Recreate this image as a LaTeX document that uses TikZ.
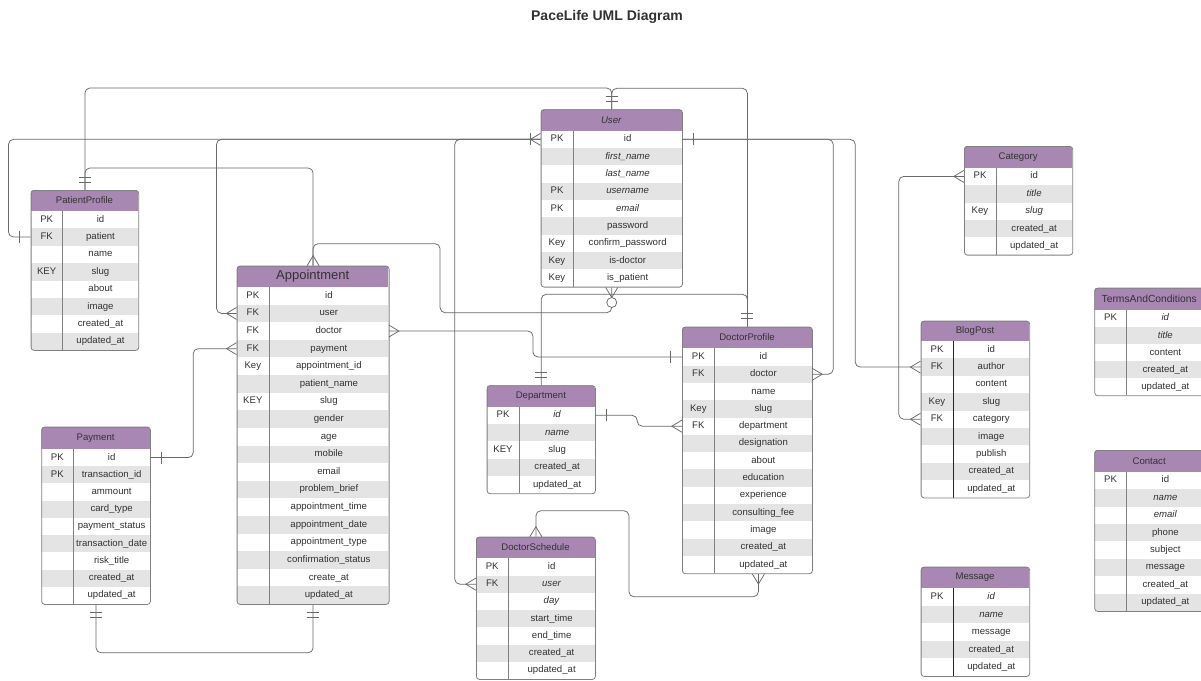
\documentclass[tikz,border=0pt]{standalone}
\usepackage{fontspec}
\setmainfont{Liberation Sans}
\usetikzlibrary{calc}
\definecolor{hdr}{RGB}{168,136,178}
\definecolor{rowg}{RGB}{228,228,228}
\definecolor{bord}{RGB}{128,128,128}
\definecolor{lin}{RGB}{105,105,105}
\definecolor{txt}{RGB}{50,50,50}
\tikzset{
  conn/.style={draw=lin, line width=0.75pt, rounded corners=5pt},
  mk/.style={draw=lin, line width=0.75pt},
  tabborder/.style={draw=bord, line width=0.8pt},
  celltext/.style={font=\fontsize{9.6}{11}\selectfont, text=txt, inner sep=0pt, text height=6.9pt, text depth=2pt},
  hdrtext/.style={font=\fontsize{9.6}{11}\selectfont, text=txt, inner sep=0pt},
}
\def\divcolor{bord}
\newcommand\erdtable[9]{%
  \foreach \kk/\ff [count=\nn] in {#9} {\xdef\nrows{\nn}}%
  \pgfmathsetmacro\tabw{#3-#2}%
  \pgfmathsetmacro\tabh{#7-#5}%
  \pgfmathsetmacro\tabrh{(#7-#6)/\nrows}%
  \fill[white, rounded corners=3pt] (#2,#5) rectangle (#3,#7);
  \begin{scope}
    \clip[rounded corners=3pt] (#2,#5) rectangle (#3,#7);
    \fill[hdr] (#2,#5) rectangle (#3,#6);
    \foreach \kk/\ff [count=\ii] in {#9} {\ifodd\ii\else\fill[rowg] (#2,{#6+(\ii-1)*\tabrh}) rectangle (#3,{#6+\ii*\tabrh});\fi}
  \end{scope}
  \draw[line width=0.8pt, draw=\divcolor] (#4,#6) -- (#4,#7);
  \node[tabborder, rounded corners=3pt, inner sep=0pt, minimum width=\tabw pt, minimum height=\tabh pt, anchor=north west] (#1) at (#2,#5) {};
  \node[hdrtext] (#1-h) at ({(#2+#3)/2},{(#5+#6)/2}) {#8};
  \foreach \kk/\ff [count=\ii] in {#9} {
    \node[inner sep=0pt, minimum width=\tabw pt, minimum height=\tabrh pt] (#1-\ii) at ({(#2+#3)/2},{#6+(\ii-0.5)*\tabrh}) {};
    \node[celltext] at ({(#2+#4)/2},{#6+(\ii-0.5)*\tabrh}) {\kk};
    \node[celltext] at ({(#4+#3)/2},{#6+(\ii-0.5)*\tabrh}) {\ff};
  }
}
\newcommand\cfoot[3]{\draw[mk] ($(#1)+({6*(#3)},{6*(#2)})$) -- ($(#1)+({10*(#2)},{10*(#3)})$) -- ($(#1)-({6*(#3)},{6*(#2)})$);}
\newcommand\obar[4]{\draw[mk] ($(#1)+({#4*(#2)+6*(#3)},{#4*(#3)+6*(#2)})$) -- ($(#1)+({#4*(#2)-6*(#3)},{#4*(#3)-6*(#2)})$);}
\newcommand\dbar[3]{\obar{#1}{#2}{#3}{8}\obar{#1}{#2}{#3}{13}}
\begin{document}
\begin{tikzpicture}[x=1pt,y=-1pt]
\fill[white] (0,0) rectangle (1201,680);
\useasboundingbox (0,0) rectangle (1201,680);
\node[font=\bfseries\fontsize{14}{16}\selectfont, text=txt] (title) at (607,17) {PaceLife UML Diagram};

\erdtable{PP}{30.7}{138.3}{62.7}{190}{211}{350}{PatientProfile}{PK/id, FK/patient, /name, KEY/slug, /about, /image, /created\_at, /updated\_at}
\erdtable{User}{540.7}{682}{573.3}{109.3}{130.7}{286.7}{\textit{User}}{PK/id, /\textit{first\_name}, /\textit{last\_name}, PK/\textit{username}, PK/\textit{email}, /password, Key/confirm\_password, Key/is-doctor, Key/is\_patient}
\erdtable{Appt}{236.7}{388.7}{269}{265.7}{287}{604}{{\fontsize{13}{15}\selectfont Appointment}}{PK/id, FK/user, FK/doctor, FK/payment, Key/appointment\_id, /patient\_name, KEY/slug, /gender, /age, /mobile, /email, /problem\_brief, /appointment\_time, /appointment\_date, /appointment\_type, /confirmation\_status, /create\_at, /updated\_at}
\erdtable{Pay}{41.3}{150}{73.3}{426.7}{449}{604}{Payment}{PK/id, PK/transaction\_id, /ammount, /card\_type, /payment\_status, /transaction\_date, /risk\_title, /created\_at, /updated\_at}
\erdtable{Dept}{486.7}{595}{519.3}{385.3}{406.7}{493.3}{Department}{PK/\textit{id}, /\textit{name}, KEY/slug, /created\_at, /updated\_at}
\erdtable{DP}{682}{812}{714.7}{326.7}{348.3}{573.3}{DoctorProfile}{PK/id, FK/doctor, /name, Key/slug, FK/department, /designation, /about, /education, /experience, /consulting\_fee, /image, /created\_at, /updated\_at}
\erdtable{DS}{476}{595}{508.3}{536.7}{558.3}{679}{DoctorSchedule}{PK/id, FK/\textit{user}, /\textit{day}, /start\_time, /end\_time, /created\_at, /updated\_at}
\erdtable{Cat}{964}{1072.3}{996}{146}{167.7}{254.7}{Category}{PK/id, /\textit{title}, Key/\textit{slug}, /created\_at, /updated\_at}
\erdtable{Terms}{1094.3}{1204}{1126.7}{287.7}{310}{395.3}{{\fontsize{10.3}{12}\selectfont TermsAndConditions}}{PK/\textit{id}, /\textit{title}, /content, /created\_at, /updated\_at}
\erdtable{Cont}{1094.3}{1204}{1126.7}{450}{471.7}{611}{Contact}{PK/id, /\textit{name}, /\textit{email}, /phone, /subject, /message, /created\_at, /updated\_at}
\def\divcolor{black!85}
\erdtable{Blog}{920.7}{1029.3}{953.3}{320.7}{341}{497.5}{BlogPost}{PK/id, FK/author, /content, Key/slug, FK/category, /image, /publish, /created\_at, /updated\_at}
\erdtable{Msg}{920.7}{1029.3}{953.3}{566.7}{588.3}{676}{Message}{PK/\textit{id}, /\textit{name}, /message, /created\_at, /updated\_at}
\def\divcolor{bord}

% connectors
\draw[conn] (PP.north) -- ++(0,-102) -| (User.north);
\draw[conn] (User.north) -- ++(0,-21) -| (DP.north);
\draw[conn] (Dept.north) -- ++(0,-91) -| (DP.north);
\draw[conn] (PP.north) -- ++(0,-22) -| (Appt.north);
\draw[conn] (Appt.north) -- ++(0,-22) -- ++(127,0) -- ++(0,69) -| (User.south);
\draw[conn] (PP-2.west) -- ++(-22,0) |- (User-1.west);
\draw[conn] (Appt-2.west) -- ++(-20,0) |- (User-1.west);
\draw[conn] (DS-2.west) -- ++(-21,0) |- (User-1.west);
\draw[conn] (User-1.east) -- ++(151,0) |- (DP-2.east);
\draw[conn] (User-1.east) -- ++(173,0) |- (Blog-2.west);
\draw[conn] (Cat-1.west) -- ++(-65,0) |- (Blog-5.west);
\draw[conn] (Pay-1.east) -- ++(43,0) |- (Appt-4.west);
\draw[conn] (Pay.south) -- ++(0,48) -| (Appt.south);
\draw[conn] (Appt-3.east) -- ++(144,0) |- (DP-1.west);
\draw[conn] (Dept-1.east) -- ++(42,0) |- (DP-5.west);
\coordinate (dpb) at ([xshift=11pt]DP.south);
\draw[conn] (DS.north) -- ++(0,-26) -- ++(93,0) -- ++(0,86) -| (dpb);

% markers
\dbar{PP.north}{0}{-1}
\dbar{User.north}{0}{-1}
\dbar{DP.north}{0}{-1}
\dbar{Dept.north}{0}{-1}
\dbar{Pay.south}{0}{1}
\dbar{Appt.south}{0}{1}
\obar{PP-2.west}{-1}{0}{11}
\obar{User-1.east}{1}{0}{11}
\obar{Pay-1.east}{1}{0}{11}
\obar{DP-1.west}{-1}{0}{11}
\obar{Dept-1.east}{1}{0}{11}
\cfoot{User-1.west}{-1}{0}
\obar{User-1.west}{-1}{0}{10}
\cfoot{Appt-2.west}{-1}{0}
\cfoot{Appt-4.west}{-1}{0}
\cfoot{Appt-3.east}{1}{0}
\cfoot{Appt.north}{0}{-1}
\cfoot{User.south}{0}{1}
\draw[mk, fill=white] ($(User.south)+(0,15)$) circle (5pt);
\cfoot{DP-2.east}{1}{0}
\cfoot{DP-5.west}{-1}{0}
\cfoot{dpb}{0}{1}
\cfoot{DS.north}{0}{-1}
\cfoot{DS-2.west}{-1}{0}
\cfoot{Blog-2.west}{-1}{0}
\cfoot{Blog-5.west}{-1}{0}
\cfoot{Cat-1.west}{-1}{0}
\end{tikzpicture}
\end{document}
